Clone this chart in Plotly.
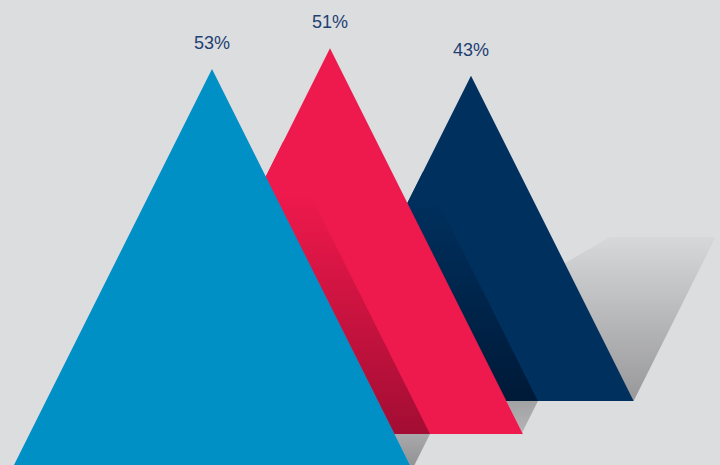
import plotly.graph_objects as go

# ---- data ----
labels = ["53%", "51%", "43%"]
values = [53, 51, 43]

# ---- styling / layout (pixel space of a 720x465 canvas) ----
W, H = 720, 465
BG = "#dcdddf"
colors = ["#0090c6", "#ee194c", "#00305e"]
shadow_dark = ["#a30d33", "#001a38", None]   # band colour cast by slot i onto slot i+1
slot_x = [212, 330, 471]          # apex x of each slot (perspective layout)
slot_base = [470, 434, 401]       # ground line of each slot
px_per_pt = 7.565                 # vertical scale: pixels per percentage point
band_w = [35.5, 31.5]             # width of cast shadow bands
LABEL_COLOR = "#1e4073"

fig = go.Figure()

def poly(xs, ys, color=None, grad=None):
    kw = dict(x=list(xs) + [xs[0]], y=list(ys) + [ys[0]], mode="lines",
              line=dict(width=0), fill="toself", hoverinfo="skip", showlegend=False)
    if grad:
        kw["fillgradient"] = grad
    else:
        kw["fillcolor"] = color
    fig.add_trace(go.Scatter(**kw))

# triangle geometry
tri = []
for v, cx, by in zip(values, slot_x, slot_base):
    h = v * px_per_pt
    tri.append(dict(cx=cx, ay=by - h, by=by, hw=h / 2))

def right_edge(t, y):
    return t["cx"] + (y - t["ay"]) * 0.5

def vgrad(c_top, c_bot, y_top, y_bot):
    return dict(type="vertical", colorscale=[[0, c_top], [1, c_bot]], start=y_top, stop=y_bot)

def inter_line_left(x0, y0, tt):
    # line x = x0 + (y - y0)*0.5 intersected with the left edge of triangle tt
    y = (tt["cx"] + 0.5 * tt["ay"] - x0 + 0.5 * y0)
    return x0 + (y - y0) * 0.5, y

# --- floor shadow of the back (navy) triangle ---
t = tri[2]
bx_r = t["cx"] + t["hw"]
shadow_top = 237
top_right = bx_r + (t["by"] - shadow_top) * 0.5
top_left = 610
xl_bottom = top_left - (t["by"] - shadow_top) * 1.73
poly([bx_r, top_right, top_left, xl_bottom], [t["by"], shadow_top, shadow_top, t["by"]],
     grad=vgrad("#d7d8da", "#98989a", shadow_top, t["by"]))

# navy triangle
poly([t["cx"] - t["hw"], t["cx"], t["cx"] + t["hw"]], [t["by"], t["ay"], t["by"]], colors[2])

# red floor shadow visible in front of navy
r = tri[1]
ybase = t["by"]
x_a = right_edge(r, ybase)
x_b = x_a + band_w[1]
ym = (x_b + 0.5 * ybase - r["cx"] + 0.5 * r["ay"])
xm = right_edge(r, ym)
poly([x_a, x_b, xm], [ybase, ybase, ym], grad=vgrad("#a2a2a4", "#b4b4b6", ybase, ym))

# red shadow band on navy
p1 = inter_line_left(x_a, ybase, t)
p2 = inter_line_left(x_b, ybase, t)
poly([p1[0], p2[0], x_b, x_a], [p1[1], p2[1], ybase, ybase],
     grad=vgrad(colors[2], shadow_dark[1], p1[1] - 5, ybase))

# red triangle
poly([r["cx"] - r["hw"], r["cx"], r["cx"] + r["hw"]], [r["by"], r["ay"], r["by"]], colors[1])

# blue floor shadow in front of red
b = tri[0]
yb2 = r["by"]
xa2 = right_edge(b, yb2)
xb2 = xa2 + band_w[0]
yend = H + 5
poly([xa2, xb2, xb2 - (yend - yb2) * 0.5, right_edge(b, yend)], [yb2, yb2, yend, yend],
     grad=vgrad("#a9a9ab", "#939395", yb2, H))

# blue shadow band on red
q1 = inter_line_left(xa2, yb2, r)
q2 = inter_line_left(xb2, yb2, r)
poly([q1[0], q2[0], xb2, xa2], [q1[1], q2[1], yb2, yb2],
     grad=vgrad(colors[1], shadow_dark[0], q1[1] + 20, yb2))

# blue triangle
poly([b["cx"] - b["hw"], b["cx"], b["cx"] + b["hw"]], [b["by"], b["ay"], b["by"]], colors[0])

# labels
for lab, tt in zip(labels, tri):
    fig.add_annotation(x=tt["cx"], y=tt["ay"] - 26, text=lab, showarrow=False,
                       font=dict(family="Liberation Sans, Arial, sans-serif", size=18, color=LABEL_COLOR),
                       xanchor="center", yanchor="middle")

fig.update_layout(
    width=W, height=H, margin=dict(l=0, r=0, t=0, b=0),
    paper_bgcolor=BG, plot_bgcolor=BG,
    xaxis=dict(range=[0, W], visible=False, fixedrange=True),
    yaxis=dict(range=[H, 0], visible=False, fixedrange=True),
)

fig.write_html("out.html")
